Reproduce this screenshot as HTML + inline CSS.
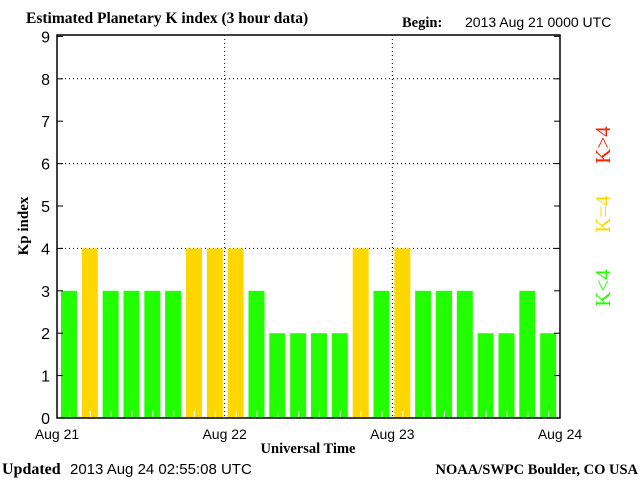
<!DOCTYPE html>
<html><head><meta charset="utf-8"><style>
body{margin:0;background:#fff;width:640px;height:480px;overflow:hidden}
svg{display:block}
</style></head><body>
<svg id="chart" width="640" height="480" xmlns="http://www.w3.org/2000/svg" font-family="Liberation Sans, sans-serif">
<text x="26" y="23" font-family="Liberation Serif, serif" font-weight="bold" font-size="15.5">Estimated Planetary K index (3 hour data)</text>
<text x="402" y="27" font-family="Liberation Serif, serif" font-weight="bold" font-size="14.5">Begin:</text>
<text x="465" y="27" font-size="14">2013 Aug 21 0000 UTC</text>
<g id="grid"></g>
<g id="bars"></g>
<rect x="57" y="35" width="503" height="383" fill="none" stroke="#000" stroke-width="1.5"/>
<g id="axes"></g>
<text x="28" y="226" font-family="Liberation Serif, serif" font-weight="bold" font-size="15" transform="rotate(-90 28 226)" text-anchor="middle">Kp index</text>
<text x="308" y="453" font-family="Liberation Serif, serif" font-weight="bold" font-size="14.5" text-anchor="middle">Universal Time</text>
<text x="2" y="474" font-family="Liberation Serif, serif" font-weight="bold" font-size="16">Updated</text>
<text x="70" y="474" font-size="15">2013 Aug 24 02:55:08 UTC</text>
<text x="638" y="474" font-family="Liberation Serif, serif" font-weight="bold" font-size="14.5" text-anchor="end">NOAA/SWPC Boulder, CO USA</text>
<text x="605" y="145" font-family="Liberation Serif, serif" font-size="21" fill="#ff2000" transform="rotate(-90 605 145)" text-anchor="middle" dominant-baseline="middle">K&gt;4</text>
<text x="605" y="214" font-family="Liberation Serif, serif" font-size="21" fill="#ffd700" transform="rotate(-90 605 214)" text-anchor="middle" dominant-baseline="middle">K=4</text>
<text x="605" y="288" font-family="Liberation Serif, serif" font-size="21" fill="#22ff00" transform="rotate(-90 605 288)" text-anchor="middle" dominant-baseline="middle">K&lt;4</text>
</svg>
<script>
const kpValues = [3,4,3,3,3,3,4,4, 4,3,2,2,2,2,4,3, 4,3,3,3,2,2,3,2];
const yTicks = [0,1,2,3,4,5,6,7,8,9];
const dayLabels = ["Aug 21","Aug 22","Aug 23","Aug 24"];
const NS="http://www.w3.org/2000/svg";
const X0=57,X1=560,Y0=418,YU=42.4;
const yS=v=>Y0-v*YU;
const bw=(X1-X0-3)/kpValues.length;
const xS=i=>X0+bw*i;
function mk(t,a,p){const e=document.createElementNS(NS,t);for(const k in a)e.setAttribute(k,a[k]);p.appendChild(e);return e;}
const grid=document.getElementById('grid'),bars=document.getElementById('bars'),axes=document.getElementById('axes');
[4,6,8].forEach(v=>{const l=mk('line',{x1:X0,x2:X1,y1:yS(v),y2:yS(v),stroke:'#000','stroke-dasharray':'1 3'},grid);

});
[1,2].forEach(d=>{const x=X0+(X1-X0)*d/(dayLabels.length-1);const l=mk('line',{x1:x,x2:x,y1:35,y2:Y0,stroke:'#000','stroke-dasharray':'1 3'},grid);

});
kpValues.forEach((v,i)=>{const c=v>4?'#ff2000':(v==4?'#ffd700':'#22ff00');
const r=mk('rect',{x:xS(i)+4,y:yS(v),width:16,height:Y0-yS(v),fill:c},bars);


mk('line',{x1:xS(i)+12.5,x2:xS(i)+12.5,y1:Y0-7,y2:Y0,stroke:'#fff'},bars);});
yTicks.forEach(v=>{const y=yS(v);
mk('line',{x1:X0,x2:X0+6,y1:y,y2:y,stroke:'#000'},axes);
mk('line',{x1:X1-6,x2:X1,y1:y,y2:y,stroke:'#000'},axes);
const t=mk('text',{x:50,y:y+6,'text-anchor':'end','font-size':'16'},axes);t.textContent=v;

});
dayLabels.forEach((d,i)=>{const x=X0+(X1-X0)*i/(dayLabels.length-1);
const t=mk('text',{x:x,y:439,'text-anchor':'middle','font-size':'14'},axes);t.textContent=d;

});
</script>
</body></html>
